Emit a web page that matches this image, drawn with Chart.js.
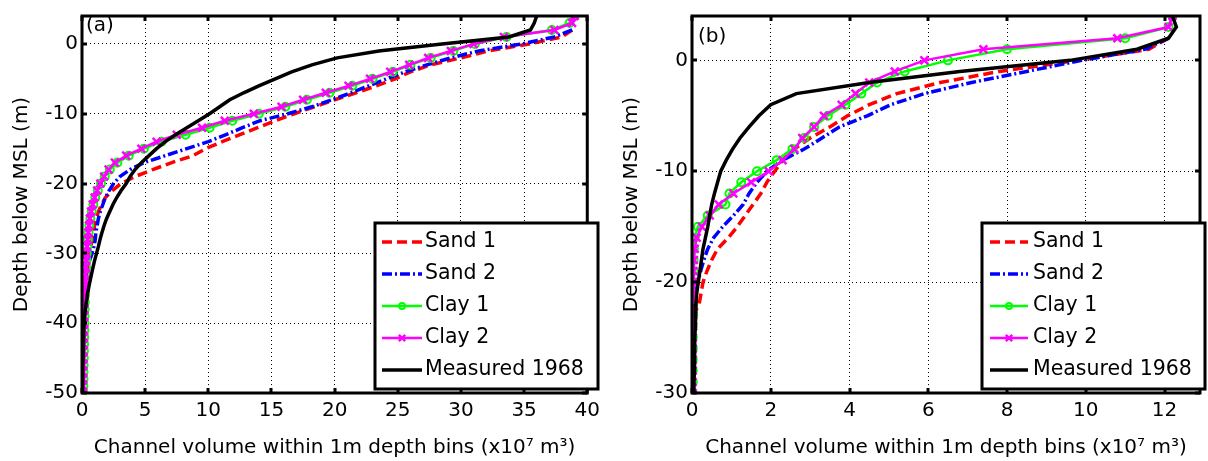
<!DOCTYPE html>
<html>
<head>
<meta charset="utf-8">
<script src="https://cdn.jsdelivr.net/npm/chart.js@4.4.1/dist/chart.umd.min.js"></script>
<style>
  body { margin:0; background:#fff; }
  #wrap { position:relative; width:1208px; height:461px; overflow:hidden; background:#fff; }
  canvas { position:absolute; top:0; }
</style>
</head>
<body>
<div id="wrap">
  <canvas id="ca" width="606" height="461" style="left:0"></canvas>
  <canvas id="cb" width="602" height="461" style="left:606px"></canvas>
</div>
<script>
// ---------- Panel (a) ----------
const depthsA = [4,3,2,1,0,-1,-2,-3,-4,-5,-6,-7,-8,-9,-10,-11,-12,-13,-14,-15,-16,-17,-18,-19,-20,-21,-22,-23,-24,-25,-26,-27,-28,-29,-30,-31,-32,-33,-34,-35,-36,-37,-38,-39,-40,-41,-42,-43,-44,-45,-46,-47,-48,-49,-50];
const sand1A = [null,null,38.8,38.0,35.4,32.2,30.0,27.6,26.0,24.8,23.3,21.7,20.0,18.4,16.8,15.3,13.9,12.5,11.1,9.8,8.8,7.1,5.6,4.2,3.1,2.4,1.85,1.55,1.3,1.15,1.0,0.9,0.8,0.7,0.6,0.5,0.42,0.35,0.3,0.25,0.2,0.17,0.14,0.12,0.1,0.09,0.08,0.07,0.06,0.06,0.05,0.05,0.04,0.04,0.04];
const sand2A = [null,null,38.8,37.4,34.8,31.4,29.2,27.3,25.6,24.1,22.7,21.3,19.8,18.2,16.3,14.1,12.7,11.4,10.0,8.3,6.6,4.9,3.8,3.0,2.5,2.15,1.85,1.65,1.45,1.3,1.2,1.1,1.05,0.95,0.8,0.6,0.45,0.35,0.28,0.22,0.18,0.15,0.12,0.1,0.09,0.08,0.07,0.06,0.06,0.05,0.05,0.04,0.04,0.04,0.04];
const clay1A = [39.0,38.6,37.2,33.6,31.1,29.4,27.6,26.0,24.6,23.0,21.4,19.6,17.8,16.1,14.0,11.9,10.1,8.2,6.3,4.9,3.7,2.8,2.2,1.8,1.5,1.25,1.05,0.9,0.77,0.66,0.58,0.52,0.47,0.42,0.38,0.35,0.32,0.3,0.28,0.26,0.24,0.22,0.21,0.2,0.19,0.18,0.17,0.16,0.15,0.14,0.13,0.12,0.12,0.11,0.11];
const clay2A = [39.0,38.8,37.4,33.4,31.0,29.2,27.4,25.9,24.4,22.8,21.1,19.3,17.5,15.8,13.6,11.3,9.5,7.5,5.9,4.7,3.5,2.6,2.1,1.75,1.45,1.2,1.0,0.85,0.72,0.62,0.55,0.5,0.45,0.4,0.36,0.33,0.3,0.28,0.26,0.24,0.22,0.2,0.19,0.18,0.17,0.16,0.15,0.14,0.13,0.12,0.11,0.1,0.1,0.09,0.09];
const measA = [36.0,35.8,35.5,33.8,28.5,23.5,20.2,18.2,16.6,15.3,14.0,12.8,11.7,10.9,10.1,9.2,8.3,7.4,6.6,5.9,5.3,4.7,4.2,3.8,3.5,3.1,2.75,2.45,2.2,1.95,1.75,1.58,1.43,1.3,1.15,1.0,0.87,0.75,0.63,0.52,0.42,0.34,0.27,0.21,0.17,0.14,0.12,0.1,0.09,0.08,0.07,0.06,0.06,0.05,0.05];
const xTicksA = [0,5,10,15,20,25,30,35,40];
const yTicksA = [-50,-40,-30,-20,-10,0];

// ---------- Panel (b) ----------
const depthsB = [4,3,2,1,0,-1,-2,-3,-4,-5,-6,-7,-8,-9,-10,-11,-12,-13,-14,-15,-16,-17,-18,-19,-20,-21,-22,-23,-24,-25,-26,-27,-28,-29,-30];
const sand1B = [null,null,12.1,11.6,9.8,7.8,6.3,5.2,4.5,3.95,3.5,3.0,2.6,2.3,2.1,1.9,1.75,1.55,1.35,1.15,0.92,0.65,0.5,0.38,0.28,0.23,0.18,0.03,0.02,0.02,0.02,0.02,0.02,0.02,0.02];
const sand2B = [null,null,12.1,11.5,9.9,8.5,7.1,5.9,5.05,4.45,3.75,3.3,2.85,2.3,1.9,1.65,1.45,1.3,1.05,0.78,0.55,0.4,0.3,0.22,0.15,0.1,0.07,0.05,0.04,0.03,0.03,0.03,0.02,0.02,0.02];
const clay1B = [12.2,12.1,11.0,8.0,6.5,5.4,4.7,4.3,3.9,3.45,3.1,2.85,2.55,2.15,1.65,1.25,0.95,0.85,0.4,0.15,0.07,0.05,0.04,0.04,0.03,0.03,0.03,0.03,0.02,0.02,0.02,0.02,0.02,0.02,0.02];
const clay2B = [12.2,12.1,10.8,7.4,5.9,5.15,4.5,4.15,3.8,3.35,3.1,2.8,2.6,2.3,1.95,1.5,1.05,0.68,0.45,0.25,0.12,0.07,0.05,0.04,0.04,0.03,0.03,0.03,0.03,0.02,0.02,0.02,0.02,0.02,0.02];
const measB = [12.2,12.3,12.1,11.3,9.6,6.8,4.5,2.65,2.0,1.7,1.45,1.22,1.03,0.87,0.73,0.65,0.57,0.5,0.45,0.4,0.34,0.28,0.24,0.2,0.16,0.12,0.1,0.09,0.08,0.07,0.07,0.06,0.06,0.05,0.05];
const xTicksB = [0,2,4,6,8,10,12];
const yTicksB = [-30,-20,-10,0];

const seriesLabels = ['Sand 1','Sand 2','Clay 1','Clay 2','Measured 1968'];
const xTitle = 'Channel volume within 1m depth bins (x10\u2077 m\u00B3)';
const yTitle = 'Depth below MSL (m)';

Chart.defaults.font.family = "'DejaVu Sans', sans-serif";
Chart.defaults.font.size = 20;
Chart.defaults.color = '#000';

function pts(depths, vals) {
  const out = [];
  depths.forEach((d, i) => { if (vals[i] !== null && vals[i] !== undefined) out.push({x: vals[i], y: d}); });
  return out;
}

function makeDatasets(depths, s1, s2, c1, c2, m) {
  return [
    {label: seriesLabels[0], data: pts(depths, s1), borderColor: '#ff0000', borderWidth: 3.5, borderDash: [10,5], pointRadius: 0, order: 4},
    {label: seriesLabels[1], data: pts(depths, s2), borderColor: '#0000ff', borderWidth: 3.5, borderDash: [10,3,2,3], pointRadius: 0, order: 3},
    {label: seriesLabels[2], data: pts(depths, c1), borderColor: '#00ff00', borderWidth: 2.5, pointStyle: 'circle', pointRadius: 4, pointBorderWidth: 2, pointBorderColor: '#00ff00', pointBackgroundColor: 'rgba(0,0,0,0)', order: 2},
    {label: seriesLabels[3], data: pts(depths, c2), borderColor: '#ff00ff', borderWidth: 2.5, pointStyle: 'crossRot', pointRadius: 5.5, pointBorderWidth: 2.5, pointBorderColor: '#ff00ff', order: 1},
    {label: seriesLabels[4], data: pts(depths, m), borderColor: '#000000', borderWidth: 3.5, pointRadius: 0, order: 0}
  ].map(d => Object.assign({showLine: true, fill: false, tension: 0}, d));
}

const framePlugin = {
  id: 'frame',
  afterDraw(chart, args, opts) {
    const {ctx, chartArea: a, scales: {x, y}} = chart;
    ctx.save();
    ctx.strokeStyle = '#000';
    ctx.setLineDash([]);
    ctx.lineWidth = 3;
    ctx.lineCap = 'butt';
    const tl = 5;
    ctx.beginPath();
    x.ticks.forEach(t => {
      const px = Math.round(x.getPixelForValue(t.value));
      ctx.moveTo(px, a.bottom); ctx.lineTo(px, a.bottom - tl);
      ctx.moveTo(px, a.top); ctx.lineTo(px, a.top + tl);
    });
    y.ticks.forEach(t => {
      const py = Math.round(y.getPixelForValue(t.value));
      ctx.moveTo(a.left, py); ctx.lineTo(a.left + tl, py);
      ctx.moveTo(a.right, py); ctx.lineTo(a.right - tl, py);
    });
    ctx.stroke();
    ctx.strokeRect(a.left, a.top, a.right - a.left, a.bottom - a.top);

    // panel label
    ctx.fillStyle = '#000';
    ctx.font = "20px 'DejaVu Sans'";
    ctx.textBaseline = 'middle';
    ctx.textAlign = 'left';
    ctx.fillText(opts.label, opts.labelX, opts.labelY);

    // legend
    const L = opts.legend;
    ctx.fillStyle = '#fff';
    ctx.fillRect(L.x0, L.y0, L.x1 - L.x0, L.y1 - L.y0);
    ctx.lineWidth = 3;
    ctx.strokeStyle = '#000';
    ctx.strokeRect(L.x0, L.y0, L.x1 - L.x0, L.y1 - L.y0);
    chart.data.datasets.forEach((ds, i) => {
      const yy = L.row0 + i * L.rowH;
      ctx.save();
      ctx.strokeStyle = ds.borderColor;
      ctx.lineWidth = ds.borderWidth;
      ctx.setLineDash(ds.borderDash || []);
      ctx.beginPath();
      ctx.moveTo(L.lx0, yy); ctx.lineTo(L.lx1, yy);
      ctx.stroke();
      ctx.setLineDash([]);
      if (ds.pointRadius > 0) {
        ctx.strokeStyle = ds.pointBorderColor;
        ctx.fillStyle = ds.pointBackgroundColor || 'rgba(0,0,0,0)';
        ctx.lineWidth = ds.pointBorderWidth;
        Chart.helpers.drawPoint(ctx, {pointStyle: ds.pointStyle, radius: ds.pointRadius - 1, borderWidth: ds.pointBorderWidth, rotation: 0}, (L.lx0 + L.lx1) / 2, yy);
      }
      ctx.restore();
      ctx.fillStyle = '#000';
      ctx.font = "20.5px 'DejaVu Sans'";
      ctx.textBaseline = 'middle';
      ctx.textAlign = 'left';
      ctx.fillText(ds.label, L.tx, yy);
    });
    ctx.restore();
  }
};

function makeChart(id, cfg) {
  return new Chart(document.getElementById(id), {
    type: 'scatter',
    data: {datasets: cfg.datasets},
    options: {
      responsive: false,
      animation: false,
      devicePixelRatio: 1,
      layout: {padding: {left: 0, right: cfg.padR, top: 12, bottom: 0}},
      plugins: {
        legend: {display: false},
        tooltip: {enabled: false},
        frame: cfg.frame
      },
      scales: {
        x: {
          type: 'linear', min: 0, max: cfg.xMax,
          afterBuildTicks: s => { s.ticks = cfg.xTicks.map(v => ({value: v})); },
          afterFit: s => { s.height = 68; },
          grid: {color: '#000', lineWidth: 1, drawTicks: false},
          border: {display: false, dash: [1,3]},
          ticks: {padding: 6, color: '#000', font: {size: 20}, maxRotation: 0, autoSkip: false, callback: v => String(v)},
          title: {display: true, text: xTitle, color: '#000', font: {size: 20}, padding: {top: 0, bottom: 1}}
        },
        y: {
          type: 'linear', min: cfg.yMin, max: 4,
          afterBuildTicks: s => { s.ticks = cfg.yTicks.map(v => ({value: v})); },
          afterFit: s => { s.width = cfg.yW; },
          grid: {color: '#000', lineWidth: 1, drawTicks: false},
          border: {display: false, dash: [1,3]},
          ticks: {padding: 4, color: '#000', font: {size: 20}, autoSkip: false, callback: v => String(v)},
          title: {display: true, text: yTitle, color: '#000', font: {size: 20}, padding: {top: cfg.yTitlePad, bottom: 0}}
        }
      }
    },
    plugins: [framePlugin]
  });
}

makeChart('ca', {
  datasets: makeDatasets(depthsA, sand1A, sand2A, clay1A, clay2A, measA),
  xMax: 40, yMin: -50, xTicks: xTicksA, yTicks: yTicksA, yW: 82, padR: 3, yTitlePad: 10,
  frame: {label: '(a)', labelX: 86, labelY: 26,
    legend: {x0: 375, y0: 223, x1: 598, y1: 389, lx0: 382, lx1: 422, tx: 425, row0: 242, rowH: 32}}
});
makeChart('cb', {
  datasets: makeDatasets(depthsB, sand1B, sand2B, clay1B, clay2B, measB),
  xMax: 12.9, yMin: -30, xTicks: xTicksB, yTicks: yTicksB, yW: 86, padR: 1, yTitlePad: 14,
  frame: {label: '(b)', labelX: 92, labelY: 37,
    legend: {x0: 376, y0: 223, x1: 599, y1: 389, lx0: 384, lx1: 422, tx: 427, row0: 242, rowH: 32}}
});
</script>
</body>
</html>
